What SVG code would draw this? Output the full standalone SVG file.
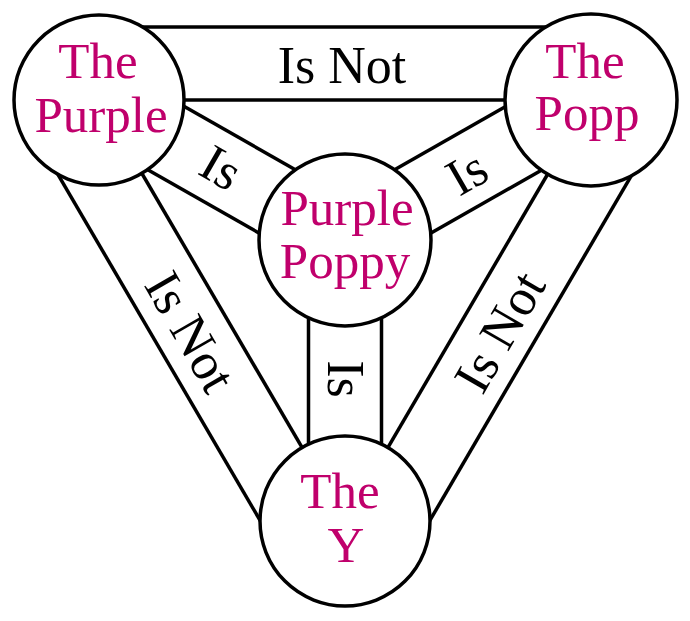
<svg xmlns="http://www.w3.org/2000/svg" width="690" height="621" viewBox="0 0 690 621">
<style>
.band{stroke:#000;stroke-width:3.5;fill:none;stroke-linecap:butt}
.node{fill:#fff;stroke:#000;stroke-width:3.5}
.nt{font-family:"Liberation Serif","Times New Roman",serif;font-size:51px;fill:#C0006C;text-anchor:middle}
.lt{font-family:"Liberation Serif","Times New Roman",serif;font-size:52px;fill:#000;text-anchor:middle}
</style>
<rect width="690" height="621" fill="#fff"/>
<g id="connectors">
  <!-- top band: Is Not -->
  <line class="band" x1="99" y1="27" x2="591" y2="27"/>
  <line class="band" x1="99" y1="100" x2="591" y2="100"/>
  <!-- A-C band: Is -->
  <line class="band" x1="117.06" y1="68.28" x2="363.06" y2="208.28"/>
  <line class="band" x1="80.94" y1="131.72" x2="326.94" y2="271.72"/>
  <!-- B-C band: Is -->
  <line class="band" x1="572.94" y1="68.28" x2="326.94" y2="208.28"/>
  <line class="band" x1="609.06" y1="131.72" x2="363.06" y2="271.72"/>
  <!-- C-D band: Is -->
  <line class="band" x1="308.5" y1="240" x2="308.5" y2="521"/>
  <line class="band" x1="381.5" y1="240" x2="381.5" y2="521"/>
  <!-- A-D band: Is Not -->
  <line class="band" x1="99" y1="100" x2="345" y2="521"/>
  <line class="band" x1="35.97" y1="136.83" x2="281.97" y2="557.83"/>
  <!-- B-D band: Is Not -->
  <line class="band" x1="591" y1="100" x2="345" y2="521"/>
  <line class="band" x1="654.03" y1="136.83" x2="408.03" y2="557.83"/>
  <!-- labels -->
  <text class="lt" x="342" y="83">Is Not</text>
  <text class="lt" transform="translate(221,168) rotate(30)" y="17">Is</text>
  <text class="lt" transform="translate(467,173) rotate(-30)" y="17">Is</text>
  <text class="lt" transform="translate(345,379) rotate(90)" y="17">Is</text>
  <text class="lt" transform="translate(190,332) rotate(60)" y="17">Is Not</text>
  <text class="lt" transform="translate(500,332) rotate(-60)" y="17">Is Not</text>
</g>
<g id="node-the-purple">
  <circle class="node" cx="99" cy="100" r="85"/>
  <text class="nt" x="98" y="78">The</text>
  <text class="nt" x="101" y="132">Purple</text>
</g>
<g id="node-the-popp">
  <circle class="node" cx="591" cy="100" r="86"/>
  <text class="nt" x="585" y="78">The</text>
  <text class="nt" x="587" y="130">Popp</text>
</g>
<g id="node-purple-poppy">
  <circle class="node" cx="345" cy="240" r="86"/>
  <text class="nt" x="347" y="225">Purple</text>
  <text class="nt" x="345" y="278">Poppy</text>
</g>
<g id="node-the-y">
  <circle class="node" cx="345" cy="521" r="85"/>
  <text class="nt" x="340" y="508">The</text>
  <text class="nt" x="346" y="562">Y</text>
</g>
</svg>
